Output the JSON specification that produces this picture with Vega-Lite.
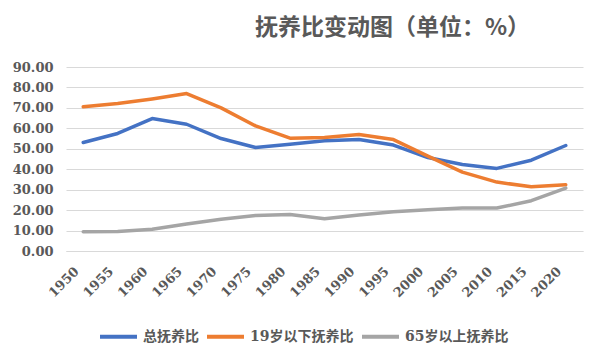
{
  "$schema": "https://vega.github.io/schema/vega-lite/v6.json",
  "width": 517,
  "height": 184,
  "autosize": "none",
  "padding": {"left": 66, "top": 67, "right": 19, "bottom": 111},
  "background": "white",
  "title": {
    "text": "抚养比变动图（单位：%）",
    "font": "Noto Sans CJK SC",
    "fontSize": 23,
    "fontWeight": "bold",
    "color": "#595959",
    "anchor": "middle",
    "dx": 68,
    "offset": 21
  },
  "data": {
    "values": [
      {"year": "1950", "series": "总抚养比", "value": 53.1},
      {"year": "1955", "series": "总抚养比", "value": 57.5},
      {"year": "1960", "series": "总抚养比", "value": 64.8},
      {"year": "1965", "series": "总抚养比", "value": 62.0},
      {"year": "1970", "series": "总抚养比", "value": 55.0},
      {"year": "1975", "series": "总抚养比", "value": 50.6},
      {"year": "1980", "series": "总抚养比", "value": 52.2},
      {"year": "1985", "series": "总抚养比", "value": 53.9},
      {"year": "1990", "series": "总抚养比", "value": 54.5},
      {"year": "1995", "series": "总抚养比", "value": 51.8},
      {"year": "2000", "series": "总抚养比", "value": 45.7},
      {"year": "2005", "series": "总抚养比", "value": 42.3},
      {"year": "2010", "series": "总抚养比", "value": 40.4},
      {"year": "2015", "series": "总抚养比", "value": 44.4},
      {"year": "2020", "series": "总抚养比", "value": 51.6},
      {"year": "1950", "series": "19岁以下抚养比", "value": 70.5},
      {"year": "1955", "series": "19岁以下抚养比", "value": 72.1},
      {"year": "1960", "series": "19岁以下抚养比", "value": 74.4},
      {"year": "1965", "series": "19岁以下抚养比", "value": 77.0},
      {"year": "1970", "series": "19岁以下抚养比", "value": 70.0},
      {"year": "1975", "series": "19岁以下抚养比", "value": 61.2},
      {"year": "1980", "series": "19岁以下抚养比", "value": 55.2},
      {"year": "1985", "series": "19岁以下抚养比", "value": 55.5},
      {"year": "1990", "series": "19岁以下抚养比", "value": 57.0},
      {"year": "1995", "series": "19岁以下抚养比", "value": 54.5},
      {"year": "2000", "series": "19岁以下抚养比", "value": 46.4},
      {"year": "2005", "series": "19岁以下抚养比", "value": 38.6},
      {"year": "2010", "series": "19岁以下抚养比", "value": 33.7},
      {"year": "2015", "series": "19岁以下抚养比", "value": 31.4},
      {"year": "2020", "series": "19岁以下抚养比", "value": 32.4},
      {"year": "1950", "series": "65岁以上抚养比", "value": 9.4},
      {"year": "1955", "series": "65岁以上抚养比", "value": 9.5},
      {"year": "1960", "series": "65岁以上抚养比", "value": 10.6},
      {"year": "1965", "series": "65岁以上抚养比", "value": 13.2},
      {"year": "1970", "series": "65岁以上抚养比", "value": 15.5},
      {"year": "1975", "series": "65岁以上抚养比", "value": 17.4},
      {"year": "1980", "series": "65岁以上抚养比", "value": 17.9},
      {"year": "1985", "series": "65岁以上抚养比", "value": 15.8},
      {"year": "1990", "series": "65岁以上抚养比", "value": 17.6},
      {"year": "1995", "series": "65岁以上抚养比", "value": 19.2},
      {"year": "2000", "series": "65岁以上抚养比", "value": 20.2},
      {"year": "2005", "series": "65岁以上抚养比", "value": 21.0},
      {"year": "2010", "series": "65岁以上抚养比", "value": 21.0},
      {"year": "2015", "series": "65岁以上抚养比", "value": 24.6},
      {"year": "2020", "series": "65岁以上抚养比", "value": 30.8}
    ]
  },
  "mark": {"type": "line", "strokeWidth": 3.5, "strokeCap": "round", "strokeJoin": "round"},
  "encoding": {
    "x": {
      "field": "year",
      "type": "ordinal",
      "title": null,
      "axis": {
        "labelAngle": -45,
        "labelAlign": "right",
        "labelBaseline": "middle",
        "labelFont": "DejaVu Serif",
        "labelFontWeight": "bold",
        "labelFontSize": 13,
        "labelColor": "#595959",
        "labelPadding": 18,
        "labelOffset": -7,
        "ticks": false,
        "domain": true,
        "domainColor": "#d9d9d9",
        "grid": false
      }
    },
    "y": {
      "field": "value",
      "type": "quantitative",
      "title": null,
      "scale": {"domain": [0, 90], "nice": false},
      "axis": {
        "values": [0, 10, 20, 30, 40, 50, 60, 70, 80, 90],
        "format": ".2f",
        "labelFont": "DejaVu Serif",
        "labelFontWeight": "bold",
        "labelFontSize": 13,
        "labelColor": "#595959",
        "labelPadding": 13,
        "ticks": false,
        "domain": false,
        "grid": true,
        "gridColor": "#d9d9d9",
        "gridWidth": 1
      }
    },
    "color": {
      "field": "series",
      "type": "nominal",
      "title": null,
      "scale": {
        "domain": ["总抚养比", "19岁以下抚养比", "65岁以上抚养比"],
        "range": ["#4472C4", "#ED7D31", "#A5A5A5"]
      },
      "legend": {
        "orient": "none",
        "legendX": 32,
        "legendY": 249,
        "direction": "horizontal",
        "symbolType": "stroke",
        "symbolSize": 1369,
        "symbolStrokeWidth": 4,
        "labelFont": "DejaVu Serif, Noto Sans CJK SC",
        "labelFontWeight": "bold",
        "labelFontSize": 14,
        "labelColor": "#595959",
        "labelOffset": 4,
        "columnPadding": 0
      }
    }
  },
  "config": {"view": {"stroke": null}}
}
